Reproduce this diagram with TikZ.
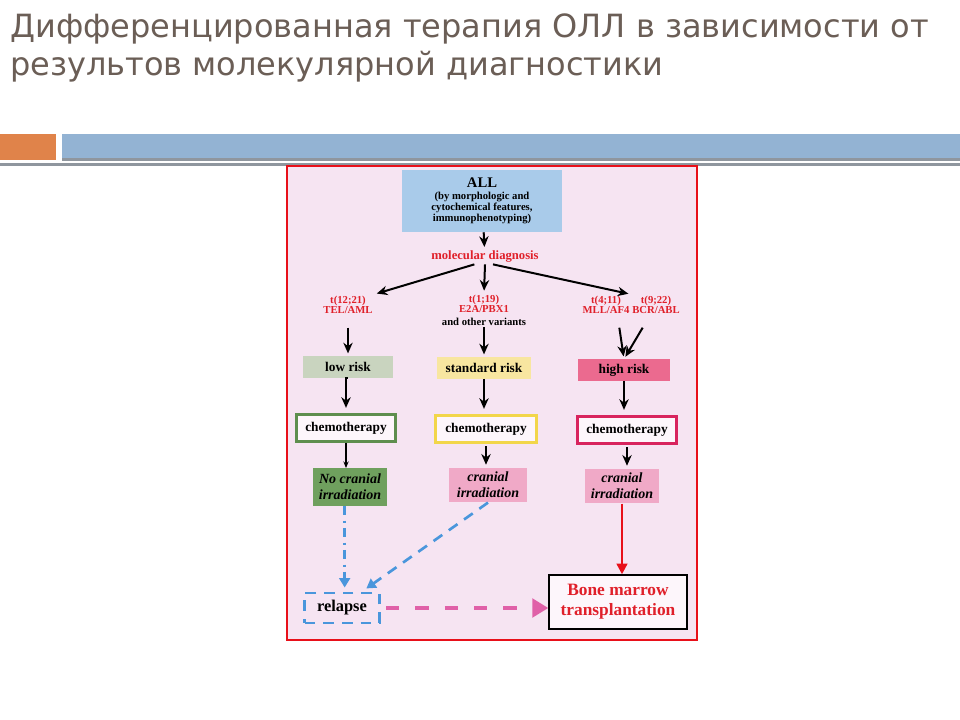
\documentclass[tikz,border=0pt]{standalone}
\usepackage{fontspec}
\setmainfont{Liberation Serif}
\newfontfamily\titlefont{DejaVu Sans}
\usetikzlibrary{arrows.meta,positioning,calc}
\definecolor{titlegray}{HTML}{6B5E56}
\definecolor{barorange}{HTML}{E0834A}
\definecolor{barblue}{HTML}{93B3D3}
\definecolor{bargray}{HTML}{8F969E}
\definecolor{sheet}{HTML}{F6E4F2}
\definecolor{frame}{HTML}{E8101A}
\definecolor{allblue}{HTML}{A9CBEA}
\definecolor{labelred}{HTML}{E0202A}
\definecolor{lowfill}{HTML}{C9D4BF}
\definecolor{stdfill}{HTML}{F8E6A0}
\definecolor{highfill}{HTML}{EB6A8F}
\definecolor{lowline}{HTML}{5E8E4E}
\definecolor{stdline}{HTML}{F2D64A}
\definecolor{highline}{HTML}{D8245E}
\definecolor{nofill}{HTML}{6FA05E}
\definecolor{irrfill}{HTML}{F0A9C7}
\definecolor{chemofill}{HTML}{FDF6FB}
\definecolor{dashblue}{HTML}{4A96DC}
\definecolor{dashpink}{HTML}{E060A8}

\begin{document}
\begin{tikzpicture}[x=0.75pt,y=-0.75pt,
	redlabel/.style={text=labelred, font=\fontsize{8}{8}\selectfont\bfseries, align=center, inner sep=1pt},
	riskbox/.style={font=\fontsize{10}{10}\selectfont\bfseries, minimum height=16pt, inner sep=1pt},
	chemobox/.style={draw=#1, line width=2.2pt, fill=chemofill, font=\fontsize{10}{10}\selectfont\bfseries, minimum height=20pt, minimum width=74pt, inner sep=1pt},
	irrbox/.style={fill=#1, font=\fontsize{10.5}{12}\selectfont\bfseries\itshape, align=center, inner sep=1pt, minimum height=26pt, minimum width=56pt},
	arr/.style={-{Stealth[length=8pt,width=7pt]}, line width=1.5pt, shorten >=2pt}]
	\useasboundingbox (0,0) rectangle (960,720);
	\fill[white] (0,0) rectangle (960,720);
	\node[anchor=base west, inner sep=0, text=titlegray, font=\titlefont\fontsize{24}{28}\selectfont] (title1) at (10,38) {Дифференцированная терапия ОЛЛ в зависимости от};
	\node[anchor=base west, inner sep=0, text=titlegray, font=\titlefont\fontsize{24}{28}\selectfont] (title2) at (10,76) {результов молекулярной диагностики};
	\fill[barorange] (0,134) rectangle (56,160);
	\fill[barblue] (62,134) rectangle (960,158);
	\fill[bargray] (62,158) rectangle (960,161);
	\fill[bargray] (0,163) rectangle (960,166);
	\draw[frame, line width=2.2pt, fill=sheet] (287,166) rectangle (697,640);

	\node[fill=allblue, minimum width=120pt, minimum height=46.5pt, align=center, inner sep=1pt, font=\fontsize{8}{8}\selectfont\bfseries] (all) at (482,201) {{\fontsize{11}{11}\selectfont ALL}\\[1pt] (by morphologic and\\ cytochemical features,\\ immunophenotyping)};
	\node[redlabel, font=\fontsize{9.5}{10}\selectfont\bfseries] (moldiag) at (485,257) {molecular diagnosis};
	\node[redlabel] (t1221) at (348,305) {t(12;21)\\TEL/AML};
	\node[redlabel] (t119) at (484,304) {t(1;19)\\E2A/PBX1};
	\node[font=\fontsize{8}{8}\selectfont\bfseries, inner sep=1pt] (variants) at (484,322) {and other variants};
	\node[redlabel] (t411) at (606,305) {t(4;11)\\MLL/AF4};
	\node[redlabel] (t922) at (656,305) {t(9;22)\\BCR/ABL};

	\node[riskbox, fill=lowfill, minimum width=67.5pt] (lowrisk) at (348,367) {low risk};
	\node[riskbox, fill=stdfill, minimum width=71pt] (stdrisk) at (484,368) {standard risk};
	\node[riskbox, fill=highfill, minimum width=69pt] (highrisk) at (624,370) {high risk};

	\node[chemobox=lowline] (chemo1) at (346,428) {chemotherapy};
	\node[chemobox=stdline, minimum width=76pt] (chemo2) at (486,429) {chemotherapy};
	\node[chemobox=highline] (chemo3) at (627,430) {chemotherapy};

	\node[irrbox=nofill, minimum height=28pt] (irr1) at (350,487) {No cranial\\irradiation};
	\node[irrbox=irrfill, minimum width=58pt] (irr2) at (488,485) {cranial\\irradiation};
	\node[irrbox=irrfill] (irr3) at (622,486) {cranial\\irradiation};

	\node[draw=dashblue, line width=2.2pt, dash pattern=on 8pt off 6pt, minimum width=56pt, minimum height=22.5pt, inner sep=1pt, font=\fontsize{12.3}{12}\selectfont\bfseries] (relapse) at (342,608) {relapse};
	\node[draw=black, line width=1.6pt, fill=chemofill, minimum width=103pt, minimum height=40pt, align=center, inner sep=1pt, text=labelred, font=\fontsize{13}{15}\selectfont\bfseries] (bmt) at (618,602) {Bone marrow\\transplantation};

	\draw[arr] (all) -- (moldiag);
	\draw[arr] ([xshift=-8pt]moldiag.south) -- (t1221.north east);
	\draw[arr] (moldiag.south) -- (t119.north);
	\draw[arr] ([xshift=6pt]moldiag.south) -- (t411.north east);
	\draw[arr] ([yshift=-9pt]t1221.south) -- (t1221.south |- lowrisk.north);
	\draw[arr] (variants.south) -- (variants.south |- stdrisk.north);
	\draw[arr] ([xshift=10pt,yshift=-9pt]t411.south) -- (highrisk.north);
	\draw[arr] ([xshift=-10pt,yshift=-9pt]t922.south) -- (highrisk.north);
	\draw[arr, shorten >=4pt] (lowrisk.south) -- (lowrisk.south -| chemo1.north) -- (chemo1.north);
	\draw[arr, shorten >=4pt] (stdrisk.south) -- (chemo2.north -| stdrisk.south);
	\draw[arr, shorten >=4pt] (highrisk.south) -- (highrisk.south |- chemo3.north);
	\draw[-{Stealth[length=5pt,width=4pt]}, line width=0.8pt] (chemo1.south) -- (chemo1.south |- irr1.north);
	\draw[arr] ([yshift=-2pt]chemo2.south) -- (chemo2.south |- irr2.north);
	\draw[arr] ([yshift=-2pt]chemo3.south) -- (chemo3.south |- irr3.north);

	\draw[dashblue, line width=2pt, dash pattern=on 7pt off 4pt on 1.5pt off 4pt, -{Triangle[length=7pt,width=8pt]}, shorten >=3pt] ([xshift=-4pt]irr1.south) -- ([xshift=-4pt]irr1.south |- relapse.north);
	\draw[dashblue, line width=2pt, dash pattern=on 8pt off 6pt, -{Triangle[length=7pt,width=8pt]}, shorten >=4pt] (irr2.south) -- ([xshift=15pt]relapse.north);
	\draw[dashpink, line width=2.5pt, dash pattern=on 10pt off 12pt, -{Triangle[length=12pt,width=14pt]}, shorten <=4pt] (relapse.east) -- (relapse.east -| bmt.west);
	\draw[frame, line width=1.8pt, -{Triangle[length=8pt,width=8pt]}] (irr3.south) -- (irr3.south |- bmt.north);
\end{tikzpicture}
\end{document}
